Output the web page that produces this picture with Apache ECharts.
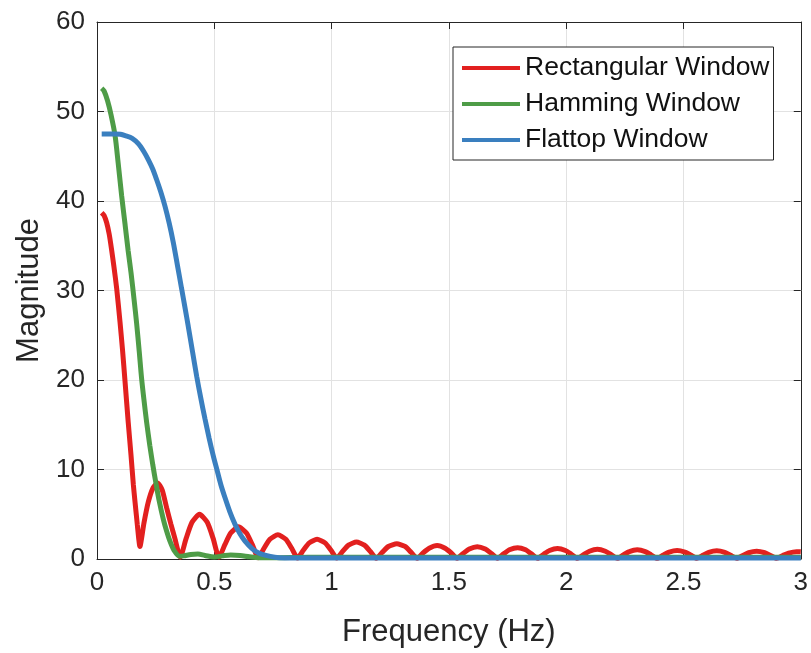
<!DOCTYPE html>
<html>
<head>
<meta charset="utf-8">
<script src="https://cdn.jsdelivr.net/npm/echarts@6/dist/echarts.min.js"></script>
<style>
html,body{margin:0;padding:0;background:#fff;}
#chart{width:811px;height:653px;}
</style>
</head>
<body>
<div id="chart"></div>
<script>
// ---- data ----
const xTicks = [0, 0.5, 1, 1.5, 2, 2.5, 3];
const yTicks = [0, 10, 20, 30, 40, 50, 60];
const seriesNames = ['Rectangular Window', 'Hamming Window', 'Flattop Window'];

const redFreq = [0.02,0.03,0.041,0.052,0.062,0.072,0.084,0.098,0.109,0.119,0.133,0.145,0.155,0.162,0.172,0.183,
  0.2,0.219,0.238,0.258,0.278,0.297,0.315,0.332,0.355,
  0.38,0.405,0.437,0.47,0.495,0.52,
  0.545,0.57,0.603,0.637,0.662,0.687,
  0.712,0.737,0.771,0.805,0.83,0.855,
  0.88,0.905,0.938,0.972,0.997,1.022,
  1.047,1.072,1.106,1.14,1.165,1.19,
  1.216,1.242,1.278,1.313,1.339,1.365,
  1.39,1.416,1.45,1.484,1.51,1.535,
  1.561,1.587,1.621,1.655,1.681,1.707,
  1.733,1.758,1.793,1.827,1.852,1.878,
  1.904,1.929,1.963,1.997,2.022,2.048,
  2.074,2.099,2.133,2.167,2.192,2.218,
  2.244,2.269,2.303,2.337,2.362,2.388,
  2.413,2.439,2.473,2.506,2.532,2.557,
  2.583,2.608,2.642,2.676,2.701,2.727,
  2.753,2.778,2.812,2.846,2.871,2.897,
  2.922,2.948,2.982,3.0];
const redMag = [38.7,38.4,37.6,36.3,34.6,32.7,30.2,26.5,23.3,20.0,15.3,11.6,8.3,6.4,3.8,1.4,
  4.0,6.4,7.9,8.5,7.7,5.7,3.9,2.3,0.2,
  2.3,4.1,5.0,4.1,2.3,0.2,
  1.6,2.9,3.6,2.9,1.6,0.15,
  1.2,2.2,2.7,2.2,1.2,0.1,
  1.0,1.8,2.2,1.8,1.0,0.1,
  0.85,1.55,1.9,1.55,0.85,0.08,
  0.75,1.4,1.7,1.4,0.75,0.08,
  0.68,1.2,1.5,1.2,0.68,0.08,
  0.62,1.12,1.38,1.12,0.62,0.08,
  0.57,1.03,1.27,1.03,0.57,0.08,
  0.53,0.95,1.17,0.95,0.53,0.08,
  0.49,0.87,1.08,0.87,0.49,0.08,
  0.46,0.83,1.02,0.83,0.46,0.08,
  0.43,0.78,0.96,0.78,0.43,0.08,
  0.41,0.74,0.91,0.74,0.41,0.08,
  0.39,0.70,0.86,0.70,0.39,0.08,
  0.37,0.66,0.82,0.80];

const greenFreq = [0.02,0.03,0.045,0.06,0.077,0.09,0.105,0.12,0.133,0.145,0.158,0.169,0.18,0.19,0.201,0.212,0.225,0.238,0.251,0.265,0.283,0.297,0.311,0.33,0.352,
  0.37,0.4,0.43,0.46,0.5,0.535,0.57,0.61,0.65,0.69,0.75,0.9,1.5,2.0,2.5,3.0];
const greenMag = [52.6,52.3,51.2,49.6,47.3,44.3,40.6,37.3,34.4,32.0,29.0,26.3,23.2,20.2,17.6,15.2,12.7,10.5,8.5,6.5,4.4,3.1,2.0,0.9,0.3,
  0.35,0.5,0.55,0.4,0.22,0.35,0.45,0.4,0.25,0.15,0.15,0.2,0.2,0.2,0.2,0.2];

const blueFreq = [0.02,0.05,0.08,0.1,0.12,0.15,0.176,0.2,0.219,0.237,0.254,0.272,0.29,0.308,0.325,0.343,0.36,0.375,0.389,0.407,0.425,0.443,0.46,0.478,0.496,0.512,0.528,0.545,0.566,0.588,0.61,0.631,0.66,0.687,0.72,0.758,0.8,0.85,1.0,1.5,2.0,2.5,3.0];
const blueMag = [47.5,47.5,47.5,47.45,47.3,47.0,46.4,45.5,44.6,43.6,42.4,41.0,39.4,37.5,35.4,32.8,30.3,28.1,26.0,23.2,20.4,17.9,15.7,13.5,11.5,9.9,8.3,6.9,5.3,3.9,2.8,2.0,1.2,0.7,0.4,0.2,0.12,0.1,0.1,0.1,0.1,0.1,0.1];

const colors = ['#e2201f', '#4e9c47', '#3a7fbf'];

function zip(xs, ys) { return xs.map((x, i) => [x, ys[i]]); }

const FONT = "'Liberation Sans', Arial, Helvetica, sans-serif";
const AX = '#262626';
const GRID = '#e2e2e2';

const chart = echarts.init(document.getElementById('chart'), null, { renderer: 'canvas' });

const boxAxisCommon = {
  axisLine: { show: true, onZero: false, lineStyle: { color: AX, width: 1 } },
  axisTick: { show: true, inside: true, length: 7, lineStyle: { color: AX, width: 1 } },
  axisLabel: { show: false },
  splitLine: { show: false }
};

chart.setOption({
  animation: false,
  backgroundColor: '#ffffff',
  textStyle: { fontFamily: FONT },
  grid: { left: 97, right: 10, top: 22, bottom: 92, containLabel: false },
  legend: {
    data: seriesNames,
    orient: 'vertical',
    left: 453,
    top: 47,
    icon: 'rect',
    itemWidth: 58,
    itemHeight: 4,
    itemGap: 6,
    padding: [6, 4, 5, 9],
    backgroundColor: '#ffffff',
    borderColor: AX,
    borderWidth: 1,
    borderRadius: 0,
    textStyle: { fontSize: 26.5, color: '#111', fontFamily: FONT, lineHeight: 30 }
  },
  xAxis: [
    {
      type: 'value', position: 'bottom',
      min: xTicks[0], max: xTicks[xTicks.length - 1], interval: xTicks[1] - xTicks[0],
      axisLine: { show: true, onZero: false, lineStyle: { color: AX, width: 1 } },
      axisTick: { show: true, inside: true, length: 7, lineStyle: { color: AX } },
      axisLabel: { fontSize: 26, color: AX, margin: 11, fontFamily: FONT },
      splitLine: { show: true, lineStyle: { color: GRID, width: 1 } },
      name: 'Frequency (Hz)', nameLocation: 'middle', nameGap: 58,
      nameTextStyle: { fontSize: 31, color: AX, fontFamily: FONT }
    },
    Object.assign({
      type: 'value', position: 'top',
      min: xTicks[0], max: xTicks[xTicks.length - 1], interval: xTicks[1] - xTicks[0]
    }, boxAxisCommon)
  ],
  yAxis: [
    {
      type: 'value', position: 'left',
      min: yTicks[0], max: yTicks[yTicks.length - 1], interval: yTicks[1] - yTicks[0],
      axisLine: { show: true, onZero: false, lineStyle: { color: AX, width: 1 } },
      axisTick: { show: true, inside: true, length: 7, lineStyle: { color: AX } },
      axisLabel: { fontSize: 26, color: AX, margin: 12, fontFamily: FONT },
      splitLine: { show: true, lineStyle: { color: GRID, width: 1 } },
      name: 'Magnitude', nameLocation: 'middle', nameGap: 50, nameRotate: 90,
      nameTextStyle: { fontSize: 31, color: AX, fontFamily: FONT }
    },
    Object.assign({
      type: 'value', position: 'right',
      min: yTicks[0], max: yTicks[yTicks.length - 1], interval: yTicks[1] - yTicks[0]
    }, boxAxisCommon)
  ],
  series: [
    { name: seriesNames[0], type: 'line', data: zip(redFreq, redMag), showSymbol: false, symbol: 'none',
      smooth: 0.2, clip: false, lineStyle: { color: colors[0], width: 5 }, itemStyle: { color: colors[0] } },
    { name: seriesNames[1], type: 'line', data: zip(greenFreq, greenMag), showSymbol: false, symbol: 'none',
      smooth: 0.3, clip: false, lineStyle: { color: colors[1], width: 5 }, itemStyle: { color: colors[1] } },
    { name: seriesNames[2], type: 'line', data: zip(blueFreq, blueMag), showSymbol: false, symbol: 'none',
      smooth: 0.3, clip: false, lineStyle: { color: colors[2], width: 5 }, itemStyle: { color: colors[2] } }
  ]
});
</script>
</body>
</html>
